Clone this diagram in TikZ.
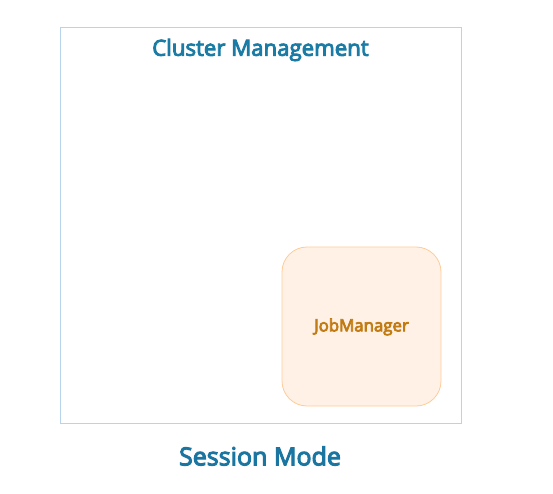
\documentclass[tikz,border=0pt]{standalone}
\usepackage{fontspec}
\setmainfont{Open Sans}
\newcommand{\heavytxt}[2]{\special{pdf:literal direct 2 Tr #1 w}#2\special{pdf:literal direct 0 Tr}}
\definecolor{titleblue}{HTML}{1A7BA5}
\definecolor{modeblue}{HTML}{1A76A0}
\definecolor{outline}{HTML}{B8D4EA}
\definecolor{jmfill}{HTML}{FFF1E6}
\definecolor{jmdraw}{HTML}{FFCC99}
\definecolor{jmtext}{HTML}{C27B12}
\begin{document}
\begin{tikzpicture}[x=1pt,y=-1pt,
  outerbox/.style={draw=outline,line width=0.8pt,fill=white},
  jmbox/.style={draw=jmdraw,line width=0.8pt,fill=jmfill,rounded corners=25pt},
  titletext/.style={font=\fontsize{22.2}{26}\selectfont,text=titleblue,inner sep=0pt},
  modetext/.style={font=\fontsize{25}{30}\selectfont,text=modeblue,inner sep=0pt},
  jmtxt/.style={font=\fontsize{16.8}{20}\selectfont,text=jmtext,inner sep=0pt}]
\useasboundingbox (0,0) rectangle (553,494);
\draw[outerbox] (60.5,27.5) rectangle (461,423);
\node[titletext] (title) at (260.5,50) {\heavytxt{0.9}{Cluster Management}};
\draw[jmbox] (282,247) rectangle (441,406);
\node[jmtxt] (jm) at (361.5,327) {\heavytxt{0.75}{JobManager}};
\node[modetext] (mode) at (260,456) {\heavytxt{1.0}{Session Mode}};
\end{tikzpicture}
\end{document}
